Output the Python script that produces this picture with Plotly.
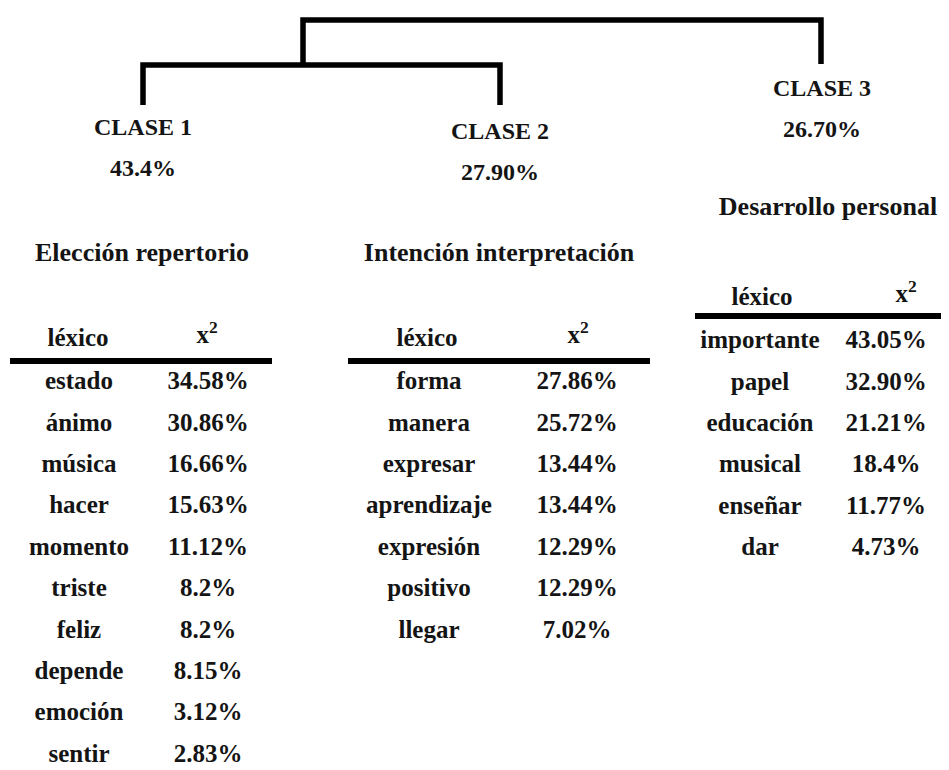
import plotly.graph_objects as go

# ---------------- data ----------------
clases = ["CLASE 1", "CLASE 2", "CLASE 3"]
clase_pct = ["43.4%", "27.90%", "26.70%"]
temas = ["Elección repertorio", "Intención interpretación", "Desarrollo personal"]

lex1 = ["estado", "ánimo", "música", "hacer", "momento", "triste", "feliz", "depende", "emoción", "sentir"]
chi1 = ["34.58%", "30.86%", "16.66%", "15.63%", "11.12%", "8.2%", "8.2%", "8.15%", "3.12%", "2.83%"]

lex2 = ["forma", "manera", "expresar", "aprendizaje", "expresión", "positivo", "llegar"]
chi2 = ["27.86%", "25.72%", "13.44%", "13.44%", "12.29%", "12.29%", "7.02%"]

lex3 = ["importante", "papel", "educación", "musical", "enseñar", "dar"]
chi3 = ["43.05%", "32.90%", "21.21%", "18.4%", "11.77%", "4.73%"]

# ---------------- drawing ----------------
FONT = "Liberation Serif"
fig = go.Figure()

def line(xs, ys, w=5.5):
    fig.add_trace(go.Scatter(x=xs, y=ys, mode="lines",
                             line=dict(color="black", width=w),
                             hoverinfo="skip", showlegend=False))

def text(xs, ys, txt, size=25):
    fig.add_trace(go.Scatter(x=xs, y=ys, mode="text", text=txt,
                             textposition="middle center",
                             textfont=dict(family=FONT, size=size, color="#141414"),
                             hoverinfo="skip", showlegend=False))

# dendrogram
line([303, 303, 821, 821], [65, 20, 20, 64])
line([143, 143, 500, 500], [105, 65, 65, 105])

# class labels
text([143, 500, 822], [129, 133, 90], [f"<b>{c}</b>" for c in clases], size=24)
text([143, 500, 822], [170, 174, 131], [f"<b>{p}</b>" for p in clase_pct], size=24)
text([142, 499, 828], [254, 254, 208], [f"<b>{t}</b>" for t in temas], size=26)

ROW = 41.4
tables = [
    dict(lex=lex1, chi=chi1, xw=79, xv=208, hx=78, hvx=207, hy=340, ly=361, lx=(10, 272), y0=383),
    dict(lex=lex2, chi=chi2, xw=429, xv=577, hx=427, hvx=578, hy=340, ly=361, lx=(348, 650), y0=383),
    dict(lex=lex3, chi=chi3, xw=760, xv=886, hx=762, hvx=906, hy=299, ly=316, lx=(695, 949), y0=342),
]
for t in tables:
    text([t["hx"], t["hvx"]], [t["hy"], t["hy"] - 3], ["<b>léxico</b>", "<b>x<sup>2</sup></b>"])
    line(list(t["lx"]), [t["ly"], t["ly"]], w=6)
    ys = [t["y0"] + i * ROW for i in range(len(t["lex"]))]
    text([t["xw"]] * len(ys), ys, [f"<b>{w}</b>" for w in t["lex"]])
    text([t["xv"]] * len(ys), ys, [f"<b>{v}</b>" for v in t["chi"]])

# the page body has an 8px margin: size the figure so that axis units equal window pixels
fig.update_layout(
    width=933, height=754,
    margin=dict(l=0, r=0, t=0, b=0),
    paper_bgcolor="white", plot_bgcolor="white",
    xaxis=dict(range=[8, 941], visible=False, fixedrange=True),
    yaxis=dict(range=[762, 8], visible=False, fixedrange=True),
)
fig.write_html("out.html")
